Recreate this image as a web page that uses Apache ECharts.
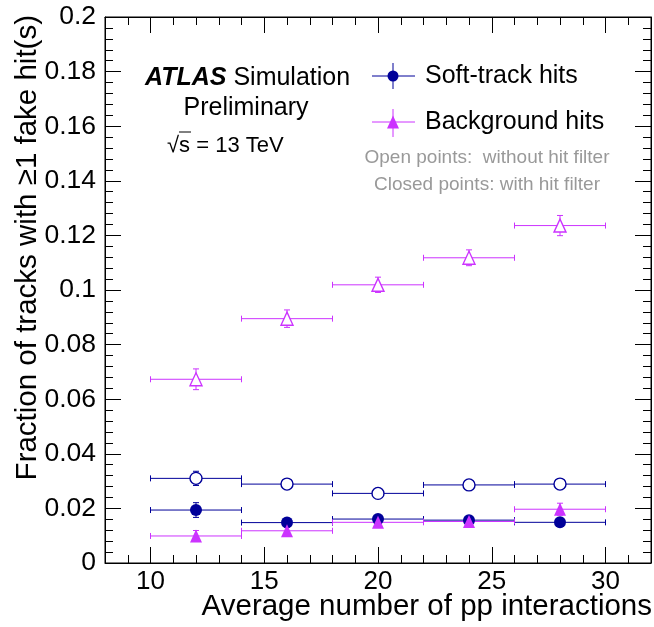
<!DOCTYPE html>
<html>
<head>
<meta charset="utf-8">
<script src="https://cdn.jsdelivr.net/npm/echarts@6/dist/echarts.min.js"></script>
<style>
  html, body { margin: 0; padding: 0; background: #fff; }
  #chart { width: 654px; height: 627px; }
</style>
</head>
<body>
<div id="chart"></div>
<script>
// Bins in average number of pp interactions
const binCenter = [12, 16, 20, 24, 28];
const binLow    = [10, 14, 18, 22, 26];
const binHigh   = [14, 18, 22, 26, 30];

// Fraction of tracks with >=1 fake hit, without hit filter (open points)
const softOpen     = [0.0310, 0.0289, 0.0255, 0.0286, 0.0289];
const softOpenErr  = [0.0026, 0.0014, 0.0012, 0.0013, 0.0013];
const bkgOpen      = [0.0673, 0.0895, 0.1019, 0.1118, 0.1236];
const bkgOpenErr   = [0.0038, 0.0032, 0.0028, 0.0029, 0.0037];

// ... and with hit filter (closed points)
const softClosed    = [0.0194, 0.0148, 0.0161, 0.0157, 0.0149];
const softClosedErr = [0.0027, 0.0012, 0.0012, 0.0012, 0.0012];
const bkgClosed     = [0.0099, 0.0118, 0.0149, 0.0152, 0.0197];
const bkgClosedErr  = [0.0020, 0.0012, 0.0012, 0.0012, 0.0022];

// Axis ticks
const xMajor = [10, 15, 20, 25, 30];
const xMinor = [9, 11, 12, 13, 14, 16, 17, 18, 19, 21, 22, 23, 24, 26, 27, 28, 29, 31];

const NAVY = '#000099';
const VIOLET = '#cc33ff';
const FONT = '"Liberation Sans", Arial, Helvetica, sans-serif';

function rows(vals, errs) {
  return binCenter.map((x, i) => [x, vals[i], binLow[i], binHigh[i], errs[i]]);
}

function errorBars(color) {
  return function (params, api) {
    const x = api.value(0), y = api.value(1);
    const xl = api.value(2), xh = api.value(3), e = api.value(4);
    const c = api.coord([x, y]);
    const l = api.coord([xl, y]);
    const h = api.coord([xh, y]);
    const t = api.coord([x, y + e]);
    const b = api.coord([x, y - e]);
    const st = { stroke: color, lineWidth: 1 };
    const cap = 3;
    const ln = (x1, y1, x2, y2) => ({ type: 'line', shape: { x1, y1, x2, y2 }, style: st });
    return {
      type: 'group',
      children: [
        ln(l[0], c[1], h[0], c[1]),
        ln(l[0], c[1] - cap, l[0], c[1] + cap),
        ln(h[0], c[1] - cap, h[0], c[1] + cap),
        ln(c[0], t[1], c[0], b[1]),
        ln(c[0] - cap, t[1], c[0] + cap, t[1]),
        ln(c[0] - cap, b[1], c[0] + cap, b[1])
      ]
    };
  };
}

function errSeries(name, vals, errs, color) {
  return {
    name: name, type: 'custom', renderItem: errorBars(color),
    data: rows(vals, errs), encode: { x: [0, 2, 3], y: 1 }, z: 2, silent: true
  };
}

function markerSeries(name, vals, symbol, size, open, color) {
  return {
    name: name, type: 'scatter', symbol: symbol, symbolSize: size,
    data: binCenter.map((x, i) => [x, vals[i]]), z: 3, silent: true,
    itemStyle: open
      ? { color: '#fff', borderColor: color, borderWidth: 1.4, opacity: 1 }
      : { color: color, borderWidth: 0, opacity: 1 }
  };
}

function xAxisDef(pos, ticks, len, labels, line) {
  return {
    type: 'value', min: 8, max: 32, position: pos,
    axisLine: { show: line, lineStyle: { color: '#000', width: 1 } },
    axisTick: { show: true, inside: true, length: len, customValues: ticks, lineStyle: { color: '#000', width: 1 } },
    axisLabel: labels
      ? { show: true, customValues: ticks, margin: 6, fontSize: 26, color: '#000', fontFamily: FONT }
      : { show: false },
    splitLine: { show: false }
  };
}

function yAxisDef(pos, labels) {
  return {
    type: 'value', min: 0, max: 0.2, interval: 0.02, position: pos,
    axisLine: { show: true, lineStyle: { color: '#000', width: 1 } },
    axisTick: { show: true, inside: true, length: 16, lineStyle: { color: '#000', width: 1 } },
    minorTick: { show: true, splitNumber: 5, length: 8, lineStyle: { color: '#000', width: 1 } },
    axisLabel: labels
      ? { show: true, margin: 9, fontSize: 26.5, color: '#000', fontFamily: FONT,
          formatter: v => String(parseFloat(v.toFixed(3))) }
      : { show: false },
    splitLine: { show: false }, minorSplitLine: { show: false }
  };
}

const chart = echarts.init(document.getElementById('chart'), null, { renderer: 'canvas' });

const legendX = 393;
const legendLine = (x1, y1, x2, y2, color) =>
  ({ type: 'line', shape: { x1, y1, x2, y2 }, style: { stroke: color, lineWidth: 1 }, z: 10 });

chart.setOption({
  animation: false,
  backgroundColor: '#fff',
  grid: { left: 105, top: 17, width: 546, height: 546, show: true, borderColor: '#000', borderWidth: 1, containLabel: false },
  xAxis: [
    xAxisDef('bottom', xMajor, 16, true, true),
    xAxisDef('bottom', xMinor, 8, false, false),
    xAxisDef('top', xMajor, 16, false, true),
    xAxisDef('top', xMinor, 8, false, false)
  ],
  yAxis: [yAxisDef('left', true), yAxisDef('right', false)],
  series: [
    errSeries('Soft-track hits (open)', softOpen, softOpenErr, NAVY),
    errSeries('Background hits (open)', bkgOpen, bkgOpenErr, VIOLET),
    errSeries('Soft-track hits', softClosed, softClosedErr, NAVY),
    errSeries('Background hits', bkgClosed, bkgClosedErr, VIOLET),
    markerSeries('Soft-track hits (open)', softOpen, 'circle', 12, true, NAVY),
    markerSeries('Background hits (open)', bkgOpen, 'triangle', [12, 13], true, VIOLET),
    markerSeries('Soft-track hits', softClosed, 'circle', 12, false, NAVY),
    markerSeries('Background hits', bkgClosed, 'triangle', [12, 13], false, VIOLET)
  ],
  graphic: [
    // axis titles
    { type: 'text', x: 652, y: 607, z: 10,
      style: { text: 'Average number of pp interactions', font: '29.5px ' + FONT, fill: '#000', align: 'right', verticalAlign: 'middle' } },
    { type: 'text', x: 28, y: 15, rotation: Math.PI / 2, z: 10,
      style: { text: 'Fraction of tracks with \u22651 fake hit(s)', font: '29.5px ' + FONT, fill: '#000', align: 'right', verticalAlign: 'middle' } },
    // experiment label
    { type: 'text', x: 145, y: 78, z: 10,
      style: { text: '{a|ATLAS}{b| Simulation}', verticalAlign: 'middle', align: 'left',
        rich: {
          a: { font: 'italic bold 25px ' + FONT, fill: '#000' },
          b: { font: '25px ' + FONT, fill: '#000' }
        } } },
    { type: 'text', x: 246, y: 108, z: 10,
      style: { text: 'Preliminary', font: '25px ' + FONT, fill: '#000', align: 'center', verticalAlign: 'middle' } },
    { type: 'text', x: 167, y: 146, z: 10,
      style: { text: '\u221As = 13 TeV', font: '22px ' + FONT, fill: '#000', align: 'left', verticalAlign: 'middle' } },
    legendLine(179, 132, 191, 132, '#000'),
    // legend: soft-track hits
    legendLine(372, 76, 415, 76, NAVY),
    legendLine(legendX, 63, legendX, 89, NAVY),
    { type: 'circle', shape: { cx: legendX, cy: 76, r: 5.5 }, style: { fill: NAVY }, z: 11 },
    { type: 'text', x: 425, y: 76, z: 10,
      style: { text: 'Soft-track hits', font: '25px ' + FONT, fill: '#000', align: 'left', verticalAlign: 'middle' } },
    // legend: background hits
    legendLine(372, 122, 415, 122, VIOLET),
    legendLine(legendX, 109, legendX, 137, VIOLET),
    { type: 'polygon', shape: { points: [[legendX, 115.5], [legendX + 6, 128.5], [legendX - 6, 128.5]] }, style: { fill: VIOLET }, z: 11 },
    { type: 'text', x: 425, y: 122, z: 10,
      style: { text: 'Background hits', font: '25px ' + FONT, fill: '#000', align: 'left', verticalAlign: 'middle' } },
    // marker style notes
    { type: 'text', x: 487, y: 158, z: 10,
      style: { text: 'Open points:  without hit filter', font: '19px ' + FONT, fill: '#999', align: 'center', verticalAlign: 'middle' } },
    { type: 'text', x: 487, y: 185, z: 10,
      style: { text: 'Closed points: with hit filter', font: '19px ' + FONT, fill: '#999', align: 'center', verticalAlign: 'middle' } }
  ]
});
</script>
</body>
</html>
